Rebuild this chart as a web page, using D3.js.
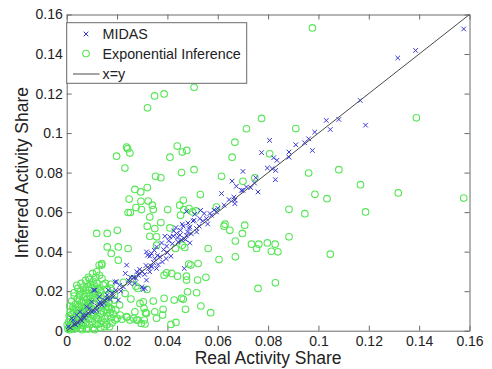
<!DOCTYPE html>
<html>
<head>
<meta charset="utf-8">
<script src="https://cdn.jsdelivr.net/npm/d3@7"></script>
<style>
  html, body { margin: 0; padding: 0; background: #fff; }
  svg { display: block; font-family: "Liberation Sans", Arial, sans-serif; }
</style>
</head>
<body>
<svg id="chart" width="492" height="369"></svg>
<script>
// Tick values and labels for both axes
const tickValues = [0, 0.02, 0.04, 0.06, 0.08, 0.1, 0.12, 0.14, 0.16];
const tickLabels = ["0", "0.02", "0.04", "0.06", "0.08", "0.1", "0.12", "0.14", "0.16"];

// MIDAS: [real share, inferred share]
const midas = [
  [0.1577,0.1527],[0.1386,0.1418],[0.1315,0.1380],[0.1166,0.1165],[0.1031,0.1064],[0.1081,0.1069],
  [0.1047,0.1018],[0.1187,0.1040],[0.0985,0.1005],[0.0961,0.0971],[0.0945,0.0951],[0.0910,0.0941],
  [0.0976,0.0912],[0.0883,0.0904],[0.0883,0.0878],[0.0806,0.0963],[0.0774,0.0901],[0.0822,0.0875],
  [0.0835,0.0862],[0.0797,0.0823],[0.0816,0.0820],[0.0830,0.0811],[0.0829,0.0764],[0.0751,0.0774],
  [0.0700,0.0806],[0.0746,0.0747],[0.0714,0.0727],[0.0731,0.0724],[0.0700,0.0710],[0.0760,0.0702],
  [0.0657,0.0757],[0.0674,0.0731],[0.0694,0.0710],[0.0615,0.0694],[0.0645,0.0663],[0.0664,0.0676],
  [0.0668,0.0660],[0.0625,0.0635],[0.0595,0.0601],[0.0575,0.0584],[0.0532,0.0609],[0.0555,0.0567],
  [0.0529,0.0567],[0.0502,0.0555],[0.0482,0.0545],[0.0486,0.0517],[0.0516,0.0517],[0.0463,0.0529],
  [0.0452,0.0508],[0.0434,0.0522],[0.0436,0.0492],[0.0410,0.0475],[0.0476,0.0483],[0.0467,0.0466],
  [0.0390,0.0478],[0.0668,0.0643],[0.0569,0.0593],[0.0546,0.0593],[0.0509,0.0589],[0.0476,0.0604],
  [0.0506,0.0559],[0.0526,0.0529],[0.0489,0.0525],[0.0516,0.0500],[0.0480,0.0500],[0.0459,0.0539],
  [0.0472,0.0461],[0.0489,0.0444],[0.0443,0.0449],[0.0423,0.0478],[0.0397,0.0428],[0.0377,0.0444],
  [0.0357,0.0424],[0.0348,0.0407],[0.0337,0.0391],[0.0321,0.0382],[0.0317,0.0399],[0.0330,0.0377],
  [0.0350,0.0365],[0.0370,0.0374],[0.0380,0.0348],[0.0414,0.0377],[0.0363,0.0335],[0.0337,0.0327],
  [0.0326,0.0315],[0.0357,0.0315],[0.0330,0.0298],[0.0467,0.0315],[0.0311,0.0214],[0.0299,0.0222],
  [0.0198,0.0247],[0.0112,0.0205],[0.0161,0.0180],[0.0129,0.0172],[0.0148,0.0138],[0.0092,0.0113],
  [0.0053,0.0096],[0.0066,0.0079],[0.0026,0.0054],[0.0006,0.0020],[0.0238,0.0332],[0.0278,0.0298],
  [0.0304,0.0209],[0.0271,0.0239],[0.0205,0.0155],[0.0185,0.0172],[0.0225,0.0222],[0.0254,0.0270],
  [0.0192,0.0247],[0.0165,0.0205],[0.0132,0.0146],[0.0099,0.0146],[0.0079,0.0121],[0.0040,0.0079],
  [0.0020,0.0063],[0.0119,0.0104],[0.0337,0.0323],[0.0291,0.0290],[0.0317,0.0256],[0.0233,0.0290],
  [0.0107,0.0205],[0.0250,0.0240],[0.0265,0.0270],[0.0285,0.0280],[0.0300,0.0300],[0.0315,0.0330],
  [0.0215,0.0200],[0.0180,0.0190],[0.0170,0.0160],[0.0150,0.0155],[0.0140,0.0130],[0.0120,0.0125],
  [0.0110,0.0100],[0.0085,0.0090],[0.0070,0.0065],[0.0055,0.0060],[0.0045,0.0040],[0.0030,0.0035],
  [0.0015,0.0015],
  [0.0385,0.0410],[0.0400,0.0395],[0.0420,0.0440],[0.0440,0.0470],[0.0455,0.0460],[0.0360,0.0380],
  [0.0345,0.0345],[0.0395,0.0365],[0.0405,0.0455],[0.0425,0.0505],[0.0450,0.0485],[0.0495,0.0490],
  [0.0540,0.0555],[0.0560,0.0540],[0.0585,0.0610],[0.0600,0.0620],[0.0245,0.0255],[0.0210,0.0230],
  [0.0195,0.0205],[0.0160,0.0165],[0.0130,0.0135],[0.0100,0.0095],[0.0075,0.0080],[0.0060,0.0050],
  [0.0035,0.0030],[0.0275,0.0265],[0.0290,0.0310],[0.0310,0.0285]
];

// Exponential Inference: [real share, inferred share]
const expInference = [
  [0.0976,0.1532],[0.0774,0.1074],[0.1389,0.1077],[0.0506,0.1232],[0.0387,0.1198],[0.0349,0.1188],
  [0.0321,0.1128],[0.0714,0.1022],[0.0910,0.1023],[0.0806,0.0895],[0.0961,0.0798],[0.1081,0.0815],
  [0.1167,0.0739],[0.1317,0.0697],[0.1577,0.0671],[0.0986,0.0690],[0.1034,0.0668],[0.0883,0.0614],
  [0.0946,0.0592],[0.1187,0.0601],[0.0707,0.0534],[0.0698,0.0492],[0.0883,0.0475],[0.0734,0.0438],
  [0.0763,0.0438],[0.0797,0.0444],[0.0828,0.0438],[0.0754,0.0416],[0.0813,0.0402],[0.0839,0.0399],
  [0.1047,0.0387],[0.0760,0.0214],[0.0829,0.0242],[0.0700,0.0756],[0.0747,0.0774],
  [0.0198,0.0883],[0.0238,0.0929],[0.0242,0.0921],[0.0251,0.0899],[0.0231,0.0823],[0.0439,0.0934],
  [0.0459,0.0904],[0.0477,0.0912],[0.0410,0.0878],[0.0456,0.0800],[0.0506,0.0815],[0.0668,0.0954],
  [0.0657,0.0878],[0.0615,0.0781],[0.0353,0.0781],[0.0374,0.0774],[0.0271,0.0715],[0.0320,0.0724],
  [0.0294,0.0702],[0.0248,0.0666],[0.0295,0.0655],[0.0324,0.0656],[0.0340,0.0635],[0.0275,0.0623],
  [0.0297,0.0613],[0.0344,0.0613],[0.0244,0.0598],[0.0253,0.0598],[0.0330,0.0575],[0.0401,0.0613],
  [0.0463,0.0660],[0.0449,0.0635],[0.0465,0.0613],[0.0486,0.0618],[0.0500,0.0601],[0.0513,0.0606],
  [0.0531,0.0689],[0.0595,0.0626],[0.0452,0.0584],[0.0374,0.0547],[0.0320,0.0529],[0.0350,0.0517],
  [0.0410,0.0520],[0.0119,0.0492],[0.0161,0.0492],[0.0201,0.0508],[0.0330,0.0478],[0.0357,0.0475],
  [0.0629,0.0539],[0.0648,0.0508],
  [0.0161,0.0424],[0.0205,0.0357],[0.0205,0.0424],[0.0244,0.0416],[0.0129,0.0332],[0.0139,0.0332],
  [0.0103,0.0290],[0.0119,0.0298],[0.0086,0.0270],[0.0057,0.0239],[0.0044,0.0214],[0.0029,0.0192],
  [0.0145,0.0231],[0.0132,0.0205],[0.0175,0.0214],[0.0172,0.0189],[0.0177,0.0391],[0.0140,0.0340],
  [0.0140,0.0264],[0.0153,0.0239],
  [0.0357,0.0433],[0.0432,0.0416],[0.0459,0.0433],[0.0469,0.0421],[0.0562,0.0416],[0.0625,0.0529],
  [0.0670,0.0454],[0.0605,0.0360],[0.0670,0.0374],[0.0485,0.0337],[0.0522,0.0340],[0.0493,0.0332],
  [0.0397,0.0293],[0.0417,0.0290],[0.0440,0.0276],[0.0476,0.0276],[0.0476,0.0256],[0.0520,0.0256],
  [0.0553,0.0270],[0.0480,0.0197],[0.0463,0.0159],[0.0387,0.0164],[0.0344,0.0150],[0.0472,0.0108],
  [0.0533,0.0125],[0.0572,0.0091],[0.0383,0.0108],[0.0350,0.0096],[0.0357,0.0063],[0.0414,0.0032],
  [0.0434,0.0042],[0.0317,0.0088],[0.0311,0.0034],[0.0387,0.0281],[0.0427,0.0155],[0.0456,0.0164],
  [0.0516,0.0192],[0.0381,0.0079],[0.0313,0.0091],[0.0308,0.0054],[0.0278,0.0054],[0.0251,0.0054],
  [0.0238,0.0071],[0.0212,0.0079],[0.0192,0.0054],[0.0291,0.0138],[0.0271,0.0096],[0.0304,0.0146],
  [0.0307,0.0113],[0.0200,0.0063],[0.0219,0.0058],[0.0239,0.0068],[0.0266,0.0063],[0.0283,0.0054],
  [0.0296,0.0037],[0.0150,0.0020],[0.0133,0.0037],[0.0283,0.0214],[0.0319,0.0209],
  [0.0225,0.0245],[0.0262,0.0262],[0.0275,0.0225],[0.0232,0.0188],[0.0255,0.0160],[0.0190,0.0155],
  [0.0210,0.0130],[0.0165,0.0120],
  [0.0005,0.0008],[0.0010,0.0020],[0.0012,0.0005],[0.0018,0.0035],[0.0020,0.0012],[0.0025,0.0050],
  [0.0028,0.0022],[0.0030,0.0008],[0.0032,0.0065],[0.0035,0.0040],[0.0038,0.0015],[0.0040,0.0085],
  [0.0042,0.0055],[0.0045,0.0028],[0.0048,0.0105],[0.0050,0.0070],[0.0052,0.0040],[0.0055,0.0012],
  [0.0058,0.0125],[0.0060,0.0090],[0.0062,0.0055],[0.0065,0.0025],[0.0068,0.0145],[0.0070,0.0110],
  [0.0072,0.0075],[0.0075,0.0040],[0.0078,0.0010],[0.0080,0.0160],[0.0082,0.0130],[0.0085,0.0095],
  [0.0088,0.0060],[0.0090,0.0030],[0.0092,0.0175],[0.0095,0.0150],[0.0098,0.0115],[0.0100,0.0080],
  [0.0102,0.0045],[0.0105,0.0015],[0.0108,0.0190],[0.0110,0.0165],[0.0112,0.0135],[0.0115,0.0100],
  [0.0118,0.0065],[0.0120,0.0030],[0.0125,0.0180],[0.0128,0.0150],[0.0130,0.0120],[0.0133,0.0085],
  [0.0136,0.0050],[0.0140,0.0160],[0.0143,0.0130],[0.0146,0.0095],[0.0150,0.0060],[0.0155,0.0140],
  [0.0158,0.0105],[0.0162,0.0075],[0.0168,0.0120],[0.0172,0.0090],[0.0178,0.0065],[0.0015,0.0060],
  [0.0022,0.0085],[0.0028,0.0110],[0.0035,0.0135],[0.0042,0.0160],[0.0050,0.0180],[0.0056,0.0200],
  [0.0065,0.0185],[0.0075,0.0205],[0.0085,0.0220],[0.0095,0.0235],[0.0012,0.0125],[0.0020,0.0150],
  [0.0030,0.0175],[0.0008,0.0045],[0.0045,0.0120],[0.0060,0.0145],[0.0070,0.0170],[0.0080,0.0190],
  [0.0090,0.0205],[0.0100,0.0215],[0.0105,0.0250],[0.0062,0.0005],[0.0085,0.0008],[0.0110,0.0005],
  [0.0135,0.0015],[0.0160,0.0030],[0.0180,0.0040],[0.0115,0.0270],[0.0075,0.0255],[0.0040,0.0230],
  [0.0015,0.0095],[0.0002,0.0030],
  [0.0015,0.0025],[0.0025,0.0030],[0.0035,0.0025],[0.0045,0.0050],[0.0055,0.0085],[0.0065,0.0100],
  [0.0075,0.0120],[0.0085,0.0140],[0.0095,0.0165],[0.0105,0.0180],[0.0115,0.0200],[0.0125,0.0215],
  [0.0135,0.0195],[0.0148,0.0175],[0.0158,0.0160],[0.0168,0.0145],[0.0178,0.0110],[0.0185,0.0085],
  [0.0190,0.0180],[0.0175,0.0235],[0.0160,0.0210],[0.0120,0.0240],[0.0088,0.0120],[0.0098,0.0060],
  [0.0108,0.0075],[0.0125,0.0060],[0.0138,0.0100],[0.0148,0.0040],[0.0058,0.0035],[0.0068,0.0065],
  [0.0040,0.0105],[0.0025,0.0120],[0.0010,0.0075],[0.0050,0.0150],[0.0065,0.0220],[0.0110,0.0230],
  [0.0130,0.0280],[0.0090,0.0260],[0.0170,0.0020],[0.0195,0.0105]
];

// Reference diagonal
const identityLine = [[0, 0], [0.16, 0.16]];

const seriesNames = ["MIDAS", "Exponential Inference", "x=y"];
const colors = { midas: "#3535d8", exp: "#55e655", line: "#4a4a4a", axis: "#6a6a6a", text: "#222" };

const svg = d3.select("#chart");
const plot = { left: 66.7, right: 469.5, top: 14.5, bottom: 330.7 };

const x = d3.scaleLinear().domain([0, 0.16]).range([plot.left, plot.right]);
const y = d3.scaleLinear().domain([0, 0.16]).range([plot.bottom, plot.top]);

const fmt = (d) => tickLabels[tickValues.indexOf(d)];

// Axes: ticks point inward on all four sides, labels on bottom and left only
function styleAxis(g) {
  g.select(".domain").attr("stroke", colors.axis).attr("stroke-width", 1);
  g.selectAll(".tick line").attr("stroke", colors.axis).attr("stroke-width", 1);
  g.selectAll(".tick text").attr("fill", colors.text).style("font-size", "14px")
    .style("font-family", "'Liberation Sans', Arial, sans-serif");
}

svg.append("g").attr("transform", `translate(0,${plot.bottom})`)
  .call(d3.axisBottom(x).tickValues(tickValues).tickFormat(fmt).tickSize(-5).tickSizeOuter(0).tickPadding(5))
  .call(styleAxis);
svg.append("g").attr("transform", `translate(${plot.left},0)`)
  .call(d3.axisLeft(y).tickValues(tickValues).tickFormat(fmt).tickSize(-5).tickSizeOuter(0).tickPadding(4))
  .call(styleAxis);
svg.append("g").attr("transform", `translate(0,${plot.top})`)
  .call(d3.axisTop(x).tickValues(tickValues).tickFormat("").tickSize(-5).tickSizeOuter(0))
  .call(styleAxis);
svg.append("g").attr("transform", `translate(${plot.right},0)`)
  .call(d3.axisRight(y).tickValues(tickValues).tickFormat("").tickSize(-5).tickSizeOuter(0))
  .call(styleAxis);

// Exponential Inference markers (hollow circles)
svg.append("g").selectAll("circle").data(expInference).join("circle")
  .attr("cx", d => x(d[0])).attr("cy", d => y(d[1])).attr("r", 3.3)
  .attr("fill", "none").attr("stroke", colors.exp).attr("stroke-width", 1.1);

// MIDAS markers (x crosses)
const xs = 2.3;
const cross = (cx, cy) => `M${cx - xs},${cy - xs}L${cx + xs},${cy + xs}M${cx - xs},${cy + xs}L${cx + xs},${cy - xs}`;
svg.append("g").selectAll("path").data(midas).join("path")
  .attr("d", d => cross(x(d[0]), y(d[1])))
  .attr("fill", "none").attr("stroke", colors.midas).attr("stroke-width", 1);

// x=y diagonal
svg.append("path").datum(identityLine)
  .attr("d", d3.line().x(d => x(d[0])).y(d => y(d[1])))
  .attr("fill", "none").attr("stroke", colors.line).attr("stroke-width", 1);

// Legend
const lg = svg.append("g");
lg.append("rect").attr("x", plot.left).attr("y", 22.7).attr("width", 180).attr("height", 60.6)
  .attr("fill", "#fff").attr("stroke", colors.axis).attr("stroke-width", 1);
const rows = [34, 53.5, 74];
lg.append("path").attr("d", cross(86, rows[0])).attr("stroke", colors.midas).attr("fill", "none");
lg.append("circle").attr("cx", 86).attr("cy", rows[1]).attr("r", 3.3)
  .attr("fill", "none").attr("stroke", colors.exp).attr("stroke-width", 1.1);
lg.append("line").attr("x1", 73).attr("x2", 99.5).attr("y1", rows[2]).attr("y2", rows[2])
  .attr("stroke", colors.line);
seriesNames.forEach((name, i) => {
  lg.append("text").attr("x", 102.5).attr("y", rows[i]).attr("dy", "0.36em")
    .attr("fill", colors.text).style("font-size", "14.3px").text(name);
});

// Axis titles
svg.append("text").attr("x", (plot.left + plot.right) / 2).attr("y", 364)
  .attr("text-anchor", "middle").attr("fill", colors.text).style("font-size", "17.5px")
  .text("Real Activity Share");
svg.append("text").attr("transform", `translate(28,${(plot.top + plot.bottom) / 2}) rotate(-90)`)
  .attr("text-anchor", "middle").attr("fill", colors.text).style("font-size", "17.5px")
  .text("Inferred Activity Share");
</script>
</body>
</html>
